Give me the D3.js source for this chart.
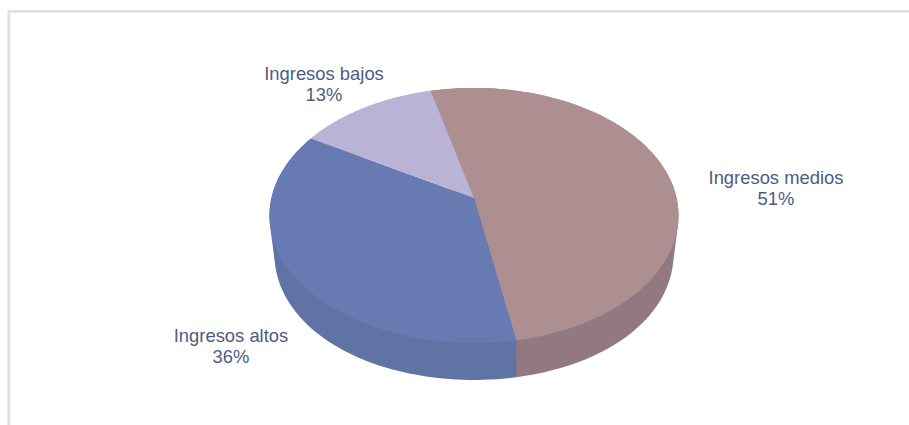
<!DOCTYPE html>
<html><head><meta charset="utf-8">
<script src="https://cdn.jsdelivr.net/npm/d3@7"></script>
<style>html,body{margin:0;padding:0;background:#fff}svg{display:block}</style>
</head><body>
<svg id="c" width="909" height="425"></svg>
<script>
const categories = ["Ingresos medios", "Ingresos altos", "Ingresos bajos"];
const values = [51.0, 36.4, 12.6];
const topColors = ["#AD8F92", "#677BB2", "#BAB3D6"];
const wallColors = ["#927981", "#5F74A4", "#A69FC0"];
const labelX = [776, 231, 324];
const labelY = [184, 342, 80];

const svg = d3.select("#c");
svg.append("path").attr("d", "M909,11.3H8.8V425").attr("fill", "none").attr("stroke", "#E1E1E1").attr("stroke-width", 2.8);

// Perspective projection of a circular pie on to the page
const cx = 474, hubY = 198, kx = 202.6, a = 98, c = -0.137;
function project(angle, depth) {
  const u = Math.sin(angle), v = -Math.cos(angle);
  const w = 1 + c * v;
  const s = depth ? 0.975 + 0.03 * Math.max(0, v) * Math.max(0, v) : 1;
  return [cx + s * kx * u / w, (a * v * (depth ? 0.995 : 1) + hubY) / w + depth];
}
const startAngle = -14 * Math.PI / 180;
const pie = d3.pie().sort(null).startAngle(startAngle).endAngle(startAngle + 2 * Math.PI);
const arcs = pie(values);
const line = d3.line();
const sample = d => d3.range(0, 81).map(i => d.startAngle + (d.endAngle - d.startAngle) * i / 80);
const depth = 37.5;

svg.append("g").selectAll("path").data(arcs).join("path")
  .attr("d", d => {
    const ts = sample(d);
    return line(d3.polygonHull(ts.map(t => project(t, 0)).concat(ts.map(t => project(t, depth))))) + "Z";
  })
  .attr("fill", (d, i) => wallColors[i]);

svg.append("g").selectAll("path").data(arcs).join("path")
  .attr("d", d => line([[cx, hubY]].concat(sample(d).map(t => project(t, 0)))) + "Z")
  .attr("fill", (d, i) => topColors[i]);

const labels = svg.append("g").attr("font-family", "'Liberation Sans', Arial, sans-serif")
  .attr("font-size", 18.4).attr("fill", "#4F5B82").attr("text-anchor", "middle");
categories.forEach((name, i) => {
  labels.append("text").attr("x", labelX[i]).attr("y", labelY[i]).text(name);
  labels.append("text").attr("x", labelX[i]).attr("y", labelY[i] + 21).text(Math.round(values[i]) + "%");
});
</script>
</body></html>
